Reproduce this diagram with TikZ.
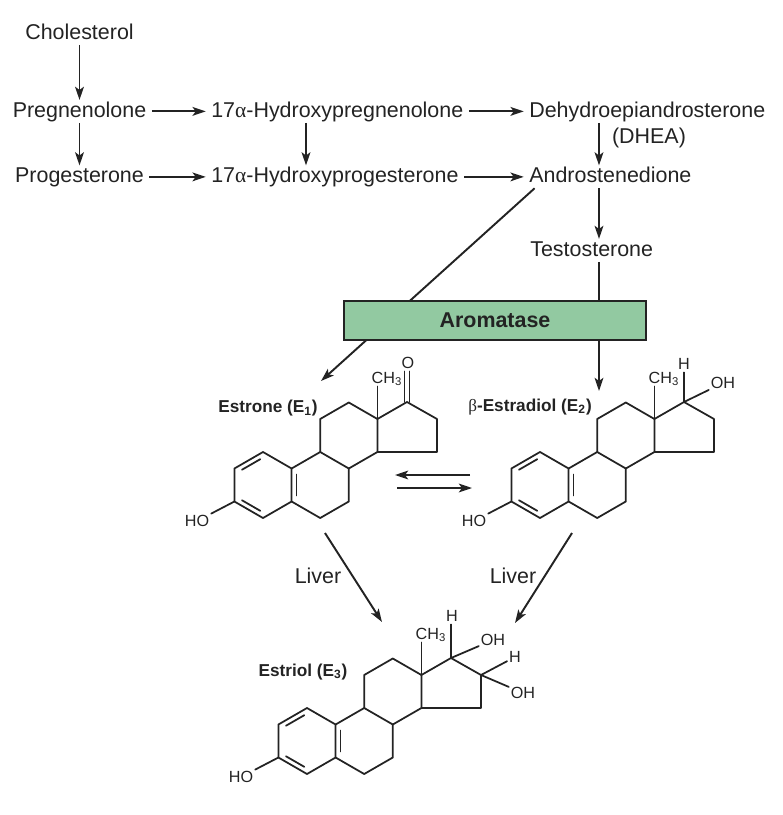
\documentclass[tikz,border=0pt]{standalone}
\usepackage{fontspec}
\setmainfont{Liberation Sans}
\newfontfamily\grk{Liberation Serif}
\usetikzlibrary{arrows.meta,calc}
\definecolor{ink}{RGB}{35,35,35}
\definecolor{enz}{RGB}{146,201,161}
\tikzset{
    TX/.style ={inner xsep=3pt, inner ysep=0.5pt, text height=9pt, text depth=2.6pt, text=ink, font=\fontsize{12.2}{14}\selectfont},
    LB/.style ={inner sep=1pt, text=ink, font=\fontsize{9.8}{11}\selectfont\bfseries},
    AT/.style ={inner sep=1pt, text height=6.6pt, text depth=0.6pt, text=ink, font=\fontsize{9.2}{10}\selectfont},
    AR/.style ={-{Stealth[length=7.5pt,width=5pt,inset=1.8pt]}, draw=ink, line width=1.1pt},
    BD/.style ={draw=ink, line width=1pt, line cap=round, line join=round},
    DB/.style ={shorten <=1.8pt, shorten >=1.8pt},
    EN/.style ={draw=ink, line width=0.9pt, fill=enz, minimum width=6.04cm, minimum height=0.78cm, text=ink, font=\fontsize{12.2}{14}\selectfont\bfseries}}

% common four-ring skeleton, #1 = prefix for the node names
\newcommand{\steroidcore}[1]{%
    \coordinate (a1) at (0,0);
    \coordinate (a2) at (28.6,16.5);
    \coordinate (a3) at (28.6,49.5);
    \coordinate (a4) at (0,66);
    \coordinate (a5) at (-28.6,49.5);
    \coordinate (a6) at (-28.6,16.5);
    \coordinate (b1) at (57.2,0);
    \coordinate (b2) at (85.8,16.5);
    \coordinate (b3) at (85.8,49.5);
    \coordinate (b4) at (57.2,66);
    \coordinate (c1) at (57.2,-33);
    \coordinate (c2) at (85.8,-49.5);
    \coordinate (c3) at (114.4,-33);
    \coordinate (c4) at (114.4,0);
    \coordinate (d1) at (144,-50);
    \coordinate (d2) at (174,-33);
    \coordinate (d3) at (174,0);
    \coordinate (ma) at (0,33);
    \coordinate (mb) at (57.2,33);
    \draw[BD] (a1) -- (a2) -- (a3) -- (a4) -- (a5) -- (a6) -- cycle;
    \draw[BD] (a2) -- (b1) -- (b2) -- (b3) -- (b4) -- (a3);
    \draw[BD] (b1) -- (c1) -- (c2) -- (c3) -- (c4) -- (b2);
    \draw[BD] (c3) -- (d1) -- (d2) -- (d3) -- (c4);
    \draw[BD,DB] ($(a6)!0.17!(ma)$) -- ($(a1)!0.17!(ma)$);
    \draw[BD,DB] ($(a5)!0.17!(ma)$) -- ($(a4)!0.17!(ma)$);
    \draw[BD,DB] ($(a2)!0.17!(mb)$) -- ($(a3)!0.17!(mb)$);
    \node[AT] (#1ho) at (-66,69) {HO};
    \node[AT] (#1me) at (124,-74) {CH\textsubscript{3}};
    \draw[BD] (a5) -- (#1ho);
    \draw[BD] (c3) -- (c3 |- #1me.south);
}

\begin{document}
\begin{tikzpicture}[x=0.02cm,y=-0.02cm]
    \useasboundingbox (0,0) rectangle (783,815);
    % pathway
    \node[TX,anchor=base] (chol) at (79.5,39) {Cholesterol};
    \node[TX,anchor=base] (preg) at (79.5,117) {Pregnenolone};
    \node[TX,anchor=base] (prog) at (79.5,182.5) {Progesterone};
    \node[TX,anchor=base west] (hpreg) at (205.7,117) {17{\grk α}-Hydroxypregnenolone};
    \node[TX,anchor=base west] (hprog) at (205.7,182.5) {17{\grk α}-Hydroxyprogesterone};
    \node[TX,anchor=base west] (dhea) at (523.7,117) {Dehydroepiandrosterone};
    \node[TX,anchor=base] (dheab) at (649,143) {(DHEA)};
    \node[TX,anchor=base west] (andro) at (523.7,182.5) {Androstenedione};
    \node[TX,anchor=base west] (testo) at (524.7,256) {Testosterone};
    \coordinate (k1) at (306,0);
    \coordinate (k2) at (599,0);
    \draw[AR] (chol) -- (preg);
    \draw[AR] (preg) -- (prog);
    \draw[AR] (preg) -- (hpreg);
    \draw[AR] (prog) -- (hprog);
    \draw[AR] (hpreg) -- (dhea);
    \draw[AR] (hprog) -- (andro);
    \draw[AR] (hpreg.south -| k1) -- (hprog.north -| k1);
    \draw[AR] (dhea.south -| k2) -- (andro.north -| k2);
    \draw[AR] (andro.south -| k2) -- (testo.north -| k2);
    % aromatase
    \coordinate (e1in) at (321,381);
    \coordinate (e2in) at (599,391);
    \draw[AR] ([xshift=6.2pt]andro.south west) -- (e1in);
    \draw[AR] (testo.south -| k2) -- (e2in);
    \node[EN] (arom) at (495,320.5) {Aromatase};
    % estrone
    \begin{scope}[shift={(263,452)}]
        \steroidcore{e1}
        \node[AT] (e1o) at (145,-89) {O};
        \coordinate (e1ot) at (d1 |- e1o.south);
        \draw[BD] ([xshift=-1.4pt]d1) -- ([xshift=-1.4pt]e1ot);
        \draw[BD] ([xshift=1.4pt]d1) -- ([xshift=1.4pt]e1ot);
    \end{scope}
    % estradiol
    \begin{scope}[shift={(540,452)}]
        \steroidcore{e2}
        \node[AT] (e2h) at (144,-88) {H};
        \node[AT] (e2oh) at (183,-69) {OH};
        \draw[BD] (d1) -- (d1 |- e2h.south);
        \draw[BD] (d1) -- (e2oh);
    \end{scope}
    % estriol
    \begin{scope}[shift={(307,708)}]
        \steroidcore{e3}
        \node[AT] (e3h1) at (145,-92) {H};
        \node[AT] (e3oh1) at (186,-68) {OH};
        \node[AT] (e3h2) at (208,-51) {H};
        \node[AT] (e3oh2) at (216,-15) {OH};
        \draw[BD] (d1) -- (d1 |- e3h1.south);
        \draw[BD] (d1) -- (e3oh1);
        \draw[BD] (d2) -- (e3h2);
        \draw[BD] (d2) -- (e3oh2);
    \end{scope}
    \node[LB,anchor=base] (e1l) at (268,412.5) {Estrone (E\textsubscript{1})};
    \node[LB,anchor=base] (e2l) at (530,411) {{\grk\mdseries β}-Estradiol (E\textsubscript{2})};
    \node[LB,anchor=base] (e3l) at (303,676) {Estriol (E\textsubscript{3})};
    % equilibrium and liver
    \coordinate (q1) at (470,475);
    \coordinate (q2) at (395,475);
    \coordinate (q3) at (397,488);
    \coordinate (q4) at (472,488);
    \draw[AR] (q1) -- (q2);
    \draw[AR] (q3) -- (q4);
    \coordinate (v1) at (325,533);
    \coordinate (v2) at (382,622);
    \coordinate (v3) at (572,533);
    \coordinate (v4) at (515,623);
    \draw[AR] (v1) -- (v2);
    \draw[AR] (v3) -- (v4);
    \node[TX,anchor=base] (liv1) at (318,583) {Liver};
    \node[TX,anchor=base] (liv2) at (513,583) {Liver};
\end{tikzpicture}
\end{document}
